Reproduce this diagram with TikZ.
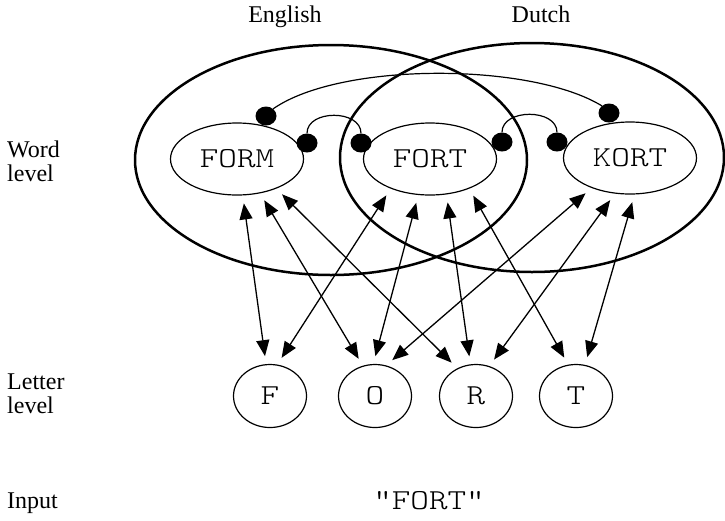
\documentclass[tikz,border=0pt]{standalone}
\usepackage{fontspec}
\setmainfont{Liberation Serif}
\newfontfamily\lmlight{Latin Modern Mono Light}
\usetikzlibrary{shapes.geometric,arrows.meta}
\newcommand\mytt[1]{\scalebox{1.22}[1]{\fontsize{29}{29}\selectfont\lmlight #1}}
\begin{document}
\begin{tikzpicture}[x=1pt,y=-1pt,
  wordnode/.style={ellipse, draw, line width=1.2pt, minimum width=133pt, minimum height=72pt, inner sep=0pt},
  letternode/.style={ellipse, draw, line width=1.2pt, minimum width=73pt, minimum height=63pt, inner sep=0pt},
  langset/.style={ellipse, draw, line width=2.5pt, inner sep=0pt},
  inhdot/.style={ellipse, fill=black, minimum width=21pt, minimum height=19pt, inner sep=0pt},
  excite/.style={line width=1.3pt, {Triangle[length=16pt,width=13pt]}-{Triangle[length=16pt,width=13pt]}, shorten >=8pt, shorten <=8pt},
  inhib/.style={line width=1.2pt},
  lbl/.style={font=\fontsize{24}{24}\selectfont, align=left, inner sep=0pt}]
\useasboundingbox (0,0) rectangle (725,520);

% language sets
\node[langset, minimum width=392pt, minimum height=230pt] (eng) at (331,160) {};
\node[langset, minimum width=384pt, minimum height=229pt] (dut) at (532,157.5) {};
\node[lbl, anchor=base] (engl) at (285,22) {English};
\node[lbl, anchor=base] (dutl) at (541,22) {Dutch};

% level labels
\node[lbl, anchor=west] (wordl) at (7,161) {Word\\level};
\node[lbl, anchor=west] (letl) at (7,394) {Letter\\level};
\node[lbl, anchor=base west] (inl) at (7,508) {Input};

% word nodes
\node[wordnode] (FORM) at (237,159) {\mytt{FORM}};
\node[wordnode] (FORT) at (430,159) {\mytt{FORT}};
\node[wordnode] (KORT) at (630,158) {\mytt{KORT}};

% letter nodes
\node[letternode] (F) at (270,396) {\mytt{F}};
\node[letternode] (O) at (375,396) {\mytt{O}};
\node[letternode] (R) at (476,396) {\mytt{R}};
\node[letternode] (T) at (576,396) {\mytt{T}};

% input
\node[anchor=base, inner sep=0pt] (input) at (429,509) {\mytt{"FORT"}};

% inhibitory dots
\node[inhdot] (d1) at (266,116) {};
\node[inhdot] (d2) at (307,143) {};
\node[inhdot] (d3) at (361,143) {};
\node[inhdot] (d4) at (502,142) {};
\node[inhdot] (d5) at (557,142) {};
\node[inhdot] (d6) at (609,113) {};

\draw[inhib] (d2.north) .. controls +(0,-24) and +(0,-24) .. (d3.north);
\draw[inhib] (d4.north) .. controls +(0,-24) and +(0,-24) .. (d5.north);
\draw[inhib] (d1.45) .. controls (340,62) and (530,62) .. (d6.135);

% excitatory links
\draw[excite] (F.97) -- (FORM.-81.5);
\draw[excite] (F.77) -- (FORT.-143);
\draw[excite] (O.112) -- (FORM.-56);
\draw[excite] (O.93) -- (FORT.-108);
\draw[excite] (O.70) -- (KORT.-142);
\draw[excite] (R.124) -- (FORM.-37);
\draw[excite] (R.100) -- (FORT.-65);
\draw[excite] (R.66) -- (KORT.-113);
\draw[excite] (T.104) -- (FORT.-37.5);
\draw[excite] (T.74) -- (KORT.-83.5);
\end{tikzpicture}
\end{document}
